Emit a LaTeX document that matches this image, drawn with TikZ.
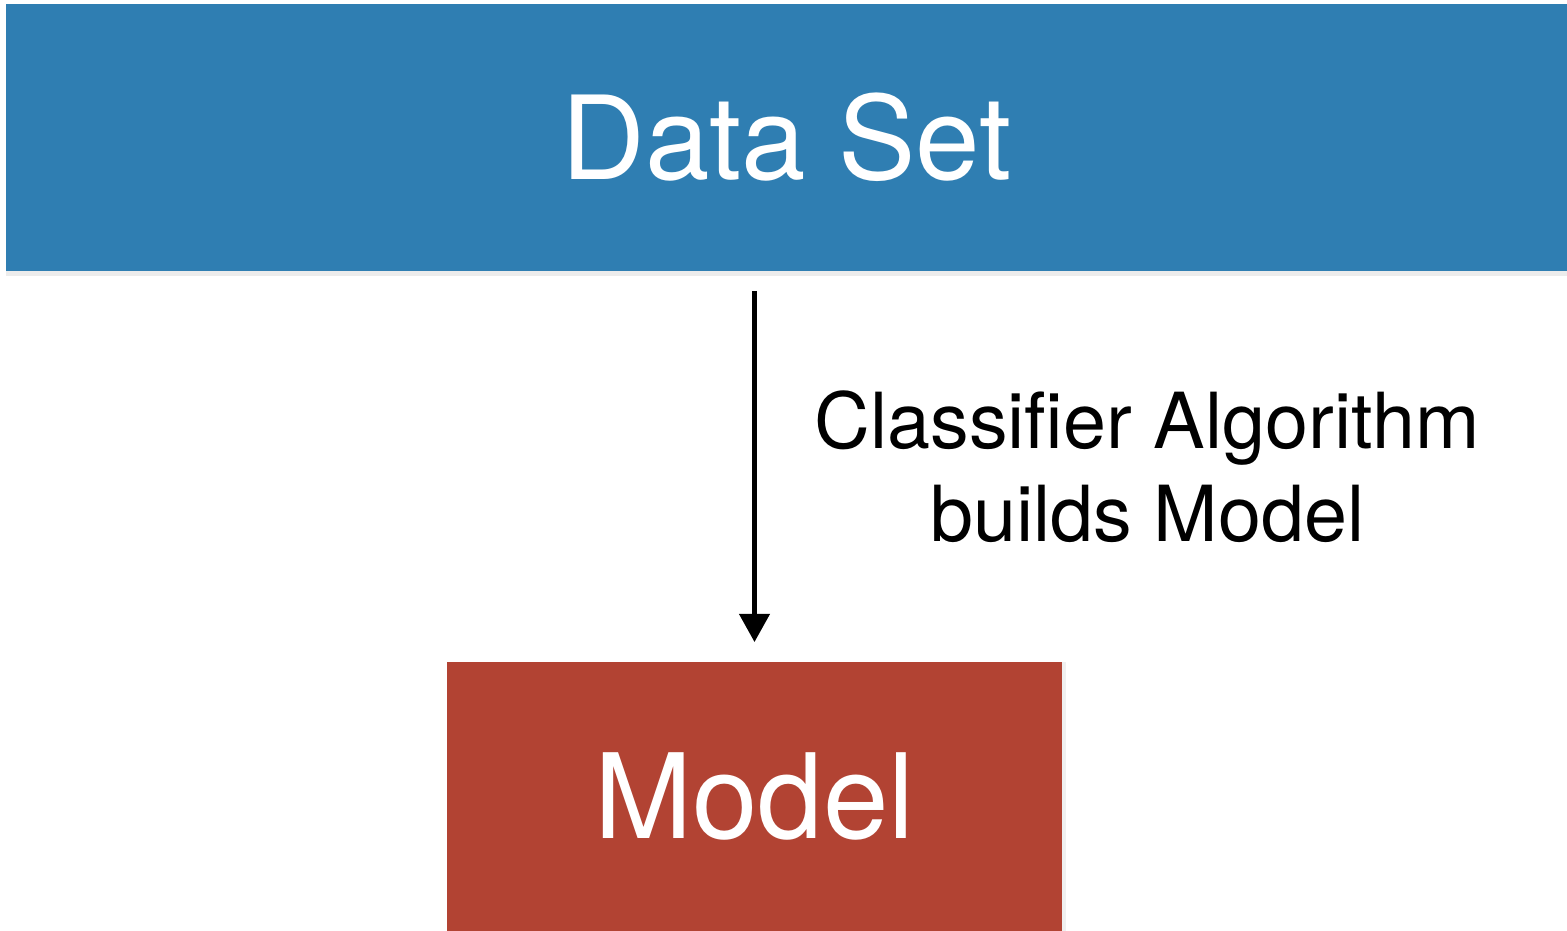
\documentclass[tikz,border=0pt]{standalone}
\usepackage{fontspec}
\setmainfont{TeX Gyre Heros}
\usetikzlibrary{arrows.meta,positioning,shadows}
\definecolor{setblue}{RGB}{47,126,178}
\definecolor{modelred}{RGB}{178,67,51}
\tikzstyle{setbox} = [fill=setblue, text=white, inner sep=0, outer sep=0pt,
  minimum width=31.22cm, minimum height=5.34cm,
  font=\fontsize{66}{79}\selectfont,
  drop shadow={shadow xshift=0pt, shadow yshift=-1mm, opacity=0.15}]
\tikzstyle{modelbox} = [fill=modelred, text=white, inner sep=0, outer sep=0pt,
  minimum width=12.3cm, minimum height=5.38cm,
  font=\fontsize{67}{79}\selectfont,
  drop shadow={shadow xshift=0.8mm, shadow yshift=0pt, opacity=0.12}]

\begin{document}
\begin{tikzpicture}[>={Triangle[length=5.6mm,width=6mm]}]
    \useasboundingbox (0,0) rectangle (31.34,18.62);

    \node[setbox] at (15.73,15.87) (ds) {Data Set};
    \node[modelbox] at (15.09,2.69) (model) {Model};

    \draw[line width=2.3pt, ->] ([yshift=-4mm]ds.south -| model.north)
    -- ([yshift=4mm]model.north)
    node[midway, right=11.6mm, inner sep=0, align=center,
    font=\fontsize{44}{53}\selectfont] (algo)
    {Classifier Algorithm\\builds Model};

\end{tikzpicture}
\end{document}
